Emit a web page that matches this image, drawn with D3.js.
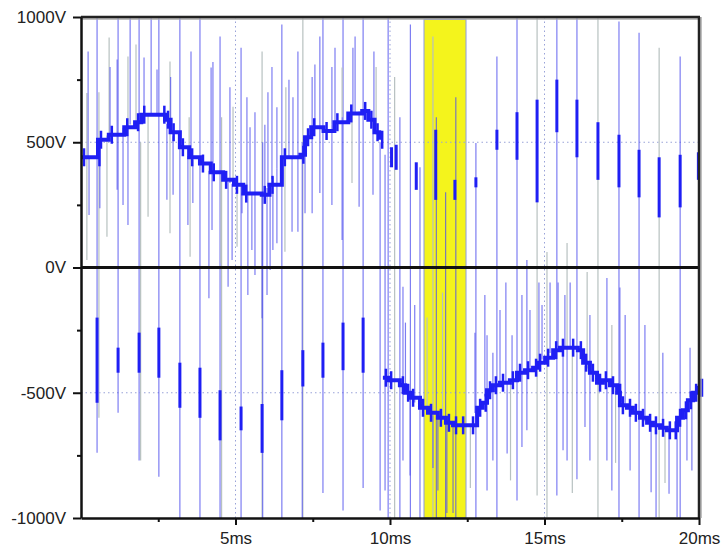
<!DOCTYPE html>
<html>
<head>
<meta charset="utf-8">
<script src="https://cdnjs.cloudflare.com/ajax/libs/d3/7.8.5/d3.min.js"></script>
<style>
  body { margin: 0; background: #fff; }
  text { font-family: "Liberation Sans", Arial, sans-serif; }
</style>
</head>
<body>
<div id="chart-area"></div>
<script>
// ---- data (time in ms, voltage in V) ----

// positive envelope, first half period
var envPosT = [0, 0.5, 0.55, 0.9, 1.4, 1.75, 1.95, 2.6, 2.72, 2.9, 3.2, 3.5, 3.85, 4.2, 4.6, 4.95, 5.25, 5.85, 6.1, 6.5, 7.1, 7.25, 7.45, 7.85, 8.2, 8.65, 9.1, 9.3, 9.5, 9.65];
var envPosV = [440, 440, 510, 530, 560, 580, 610, 610, 590, 540, 480, 440, 415, 380, 350, 330, 295, 290, 330, 440, 450, 520, 560, 545, 580, 615, 625, 590, 540, 510];

// negative envelope, second half period
var envNegT = [9.77, 9.94, 10.32, 10.49, 10.65, 10.97, 11.23, 11.55, 11.81, 12.04, 12.27, 12.59, 12.82, 13.0, 13.14, 13.33, 13.56, 13.88, 14.11, 14.37, 14.63, 14.76, 15.02, 15.28, 15.5, 15.83, 16.08, 16.25, 16.47, 16.7, 16.89, 17.12, 17.35, 17.44, 17.67, 17.86, 18.09, 18.32, 18.51, 18.74, 18.96, 19.15, 19.29, 19.48, 19.64, 19.81, 19.94, 20];
var envNegV = [-440, -450, -470, -500, -520, -560, -580, -600, -620, -630, -630, -630, -560, -540, -490, -470, -460, -450, -420, -410, -400, -380, -360, -330, -320, -320, -330, -380, -420, -460, -450, -470, -500, -550, -560, -580, -600, -620, -630, -640, -650, -650, -600, -570, -530, -500, -480, -480];

// switching edges: [t, low, high, kind]
var switchLines = [
  [0.52, -740, 1000, "b"], [0.58, -600, 700, "g"], [1.20, -580, 1000, "b"], [1.88, -770, 1000, "b"],
  [1.93, -770, 500, "g"], [2.52, -835, 1000, "b"], [3.20, -1000, 1000, "b"], [3.85, -1000, 1000, "b"],
  [4.50, -1000, 922, "b"], [4.55, -1000, 600, "g"], [5.18, -1000, 877, "b"], [5.86, -1000, 862, "g"],
  [5.88, -1000, 500, "b"], [6.50, -1000, 970, "b"], [7.18, -1000, 1000, "g"], [7.16, -1000, 500, "b"],
  [7.83, -900, 1000, "b"], [8.48, -970, 1000, "b"], [9.13, -880, 1000, "b"], [9.68, -970, 500, "b"],
  [9.84, -890, 450, "b"], [9.94, -1000, 1000, "b"], [10.15, -1000, 760, "g"], [10.32, -1000, 600, "b"],
  [10.66, -1000, 970, "b"], [10.97, -1000, 400, "b"], [11.39, -1000, 922, "g"], [11.5, -1000, 600, "b"],
  [11.8, -1000, 300, "b"], [12.13, -1000, 680, "b"], [12.78, -1000, 497, "b"], [13.46, -1000, 842, "b"],
  [14.11, -930, 1000, "b"], [14.76, -910, 1000, "g"], [15.40, -910, 1000, "b"], [16.05, -845, 1000, "b"],
  [16.73, -1000, 1000, "g"], [17.41, -1000, 982, "b"], [18.06, -1000, 937, "b"], [18.71, -1000, 877, "g"],
  [19.39, -1000, 842, "b"]
];

// thick short pulses at the switching edges: [t, low, high]
var pulses = [
  [0.52, -540, -200], [1.20, -420, -320], [1.88, -420, -260], [2.52, -440, -240], [3.20, -560, -380],
  [3.85, -600, -400], [4.50, -690, -490], [5.18, -650, -555], [5.86, -740, -545], [6.50, -610, -410],
  [7.18, -475, -330], [7.83, -440, -300], [8.48, -410, -220], [9.13, -420, -200],
  [10.05, 400, 480], [10.2, 390, 490], [10.85, 310, 420], [11.48, 270, 550], [12.10, 270, 350],
  [12.78, 320, 360], [13.46, 470, 550], [14.11, 430, 620], [14.76, 260, 670], [15.40, 540, 750],
  [16.05, 440, 670], [16.73, 350, 580], [17.41, 320, 530], [18.06, 280, 470], [18.71, 200, 440],
  [19.39, 240, 450], [19.98, 350, 460]
];

// ringing spikes leaving the positive envelope: [t, tip, kind]
var posUpSpikes = [
  [0.19, 697, "g"], [0.23, 862, "b"], [0.91, 918, "g"], [0.94, 800, "b"], [1.17, 830, "b"], [1.52, 842, "g"],
  [1.59, 1000, "b"], [1.78, 890, "g"], [2.04, 838, "b"], [2.27, 1000, "b"], [2.46, 790, "b"], [2.88, 822, "g"],
  [2.9, 760, "b"], [3.50, 600, "g"], [3.56, 862, "b"], [4.21, 798, "b"], [4.27, 820, "b"], [4.82, 720, "b"],
  [4.92, 642, "g"], [5.37, 680, "b"], [5.47, 560, "b"], [5.63, 620, "b"], [5.95, 570, "b"], [6.05, 700, "b"],
  [6.18, 800, "b"], [6.34, 640, "b"], [6.63, 720, "g"], [6.73, 750, "b"], [6.86, 680, "b"], [7.02, 862, "b"],
  [7.48, 760, "b"], [7.57, 810, "b"], [7.73, 922, "b"], [8.12, 800, "b"], [8.22, 877, "b"], [8.45, 798, "g"],
  [8.80, 877, "b"], [8.87, 922, "b"], [9.48, 862, "b"], [9.55, 800, "g"]
];
var posDownSpikes = [
  [0.19, 30, "g"], [0.26, 210, "b"], [0.61, 237, "b"], [0.84, 123, "g"], [1.17, 310, "b"], [1.36, 250, "b"],
  [1.52, 170, "b"], [2.17, 203, "g"], [2.78, 270, "b"], [2.88, 137, "g"], [2.98, 290, "b"], [3.46, 170, "b"],
  [3.53, 43, "g"], [3.62, 257, "b"], [4.14, -123, "b"], [4.24, 150, "b"], [4.53, 17, "g"], [4.76, -77, "b"],
  [4.89, 30, "b"], [5.05, 83, "g"], [5.21, 217, "b"], [5.40, -110, "b"], [5.53, 70, "b"], [5.63, -30, "b"],
  [5.86, -203, "b"], [6.02, -110, "b"], [6.12, -10, "b"], [6.21, 70, "b"], [6.34, 97, "b"], [6.60, 63, "g"],
  [6.83, 143, "b"], [7.02, 143, "b"], [7.25, 217, "b"], [7.48, 217, "b"], [7.73, 297, "b"], [8.12, 250, "b"],
  [8.45, 110, "b"], [8.77, 337, "g"], [9.0, 243, "b"], [9.45, 290, "b"]
];

// ringing spikes leaving the negative envelope: [t, tip, kind]
var negDownSpikes = [
  [10.42, -770, "b"], [10.65, -830, "b"], [11.39, -800, "b"], [11.55, -890, "b"], [11.84, -980, "b"],
  [12.04, -980, "b"], [12.6, -880, "g"], [13.14, -890, "b"], [13.33, -770, "b"], [13.79, -743, "b"],
  [13.9, -850, "g"], [14.27, -717, "b"], [14.43, -650, "b"], [15.08, -997, "g"], [15.60, -730, "b"],
  [15.73, -770, "b"], [15.9, -900, "g"], [16.31, -637, "b"], [16.47, -770, "b"], [17.02, -770, "b"],
  [17.18, -890, "b"], [17.3, -780, "g"], [17.77, -810, "b"], [18.45, -897, "b"], [18.61, -997, "b"],
  [18.9, -860, "g"], [19.03, -903, "b"], [19.29, -997, "b"], [19.61, -770, "b"], [19.77, -810, "b"]
];
var negUpSpikes = [
  [10.42, -77, "b"], [10.5, -220, "b"], [10.8, -150, "b"], [11.2, -200, "g"], [11.7, -100, "g"],
  [12.75, -260, "b"], [13.07, -110, "b"], [13.14, -270, "b"], [13.33, -340, "b"], [13.56, -170, "b"],
  [13.75, -60, "b"], [13.95, -270, "b"], [14.27, -110, "b"], [14.43, 30, "b"], [14.53, -170, "b"],
  [14.82, -60, "b"], [14.92, -150, "b"], [15.08, 62, "g"], [15.18, -60, "b"], [15.44, -60, "b"],
  [15.66, -110, "b"], [15.73, 98, "g"], [15.83, -60, "b"], [16.38, -18, "g"], [16.47, -190, "b"],
  [17.02, -42, "b"], [17.18, -230, "g"], [17.44, -80, "b"], [17.61, -190, "b"], [18.25, -230, "b"],
  [18.83, -340, "b"], [19.71, -320, "b"]
];

// highlighted window
var windowT = [11.1, 12.46];
var windowV = [-1000, 990];

// ticks
var yMajor = [-1000, -500, 0, 500, 1000];
var yMinor = [-750, -250, 250, 750];
var xMajor = [5, 10, 15, 20];
var xMinor = [2.5, 7.5, 12.5, 17.5];
var yGrid = [-500, 500];
var xGrid = [5, 10, 15];

// ---- layout ----
var margin = { left: 81, right: 23, top: 17, bottom: 31 };
var width = 722 - margin.left - margin.right,
    height = 549 - margin.top - margin.bottom;

var svg = d3.select("#chart-area")
            .append("svg")
                .attr("width", 722)
                .attr("height", 549);

var g = svg.append("g")
            .attr("transform", "translate(" + margin.left + ", " + margin.top + ")");

var x = d3.scaleLinear().domain([0, 20]).range([0, width]);
var y = d3.scaleLinear().domain([-1000, 1000]).range([height, 0]);

// envelope lookup so spikes start on the trace
var posEnv = d3.scaleLinear().domain(envPosT).range(envPosV).clamp(true);
var negEnv = d3.scaleLinear().domain(envNegT).range(envNegV).clamp(true);

var colour = { b: "#5252ee", g: "#b7c1c0" };
var opac = { b: 0.75, g: 1 };
var traceBlue = "#1f1ff4";

// yellow window
g.append("rect")
    .attr("x", x(windowT[0]))
    .attr("y", y(windowV[1]))
    .attr("width", x(windowT[1]) - x(windowT[0]))
    .attr("height", y(windowV[0]) - y(windowV[1]))
    .attr("fill", "#f4f41c")
    .attr("stroke", "#8e9ce0")
    .attr("stroke-width", 1);

// dotted grid
g.selectAll(".ygrid").data(yGrid).enter().append("line")
    .attr("x1", 0).attr("x2", width)
    .attr("y1", function(d) { return y(d); }).attr("y2", function(d) { return y(d); })
    .attr("stroke", "#99a2d8").attr("stroke-width", 1).attr("stroke-dasharray", "1.5,3");
g.selectAll(".xgrid").data(xGrid).enter().append("line")
    .attr("y1", 0).attr("y2", height)
    .attr("x1", function(d) { return x(d); }).attr("x2", function(d) { return x(d); })
    .attr("stroke", "#99a2d8").attr("stroke-width", 1).attr("stroke-dasharray", "1.5,3");

// thin vertical lines
var thin = g.append("g").attr("class", "thin");

function drawThin(rows, lo, hi) {
  thin.selectAll(null).data(rows).enter().append("line")
      .attr("x1", function(d) { return x(d[0]); })
      .attr("x2", function(d) { return x(d[0]); })
      .attr("y1", function(d) { return y(lo(d)); })
      .attr("y2", function(d) { return y(hi(d)); })
      .attr("stroke", function(d) { return colour[d[d.length - 1]]; })
      .attr("stroke-opacity", function(d) { return opac[d[d.length - 1]]; })
      .attr("stroke-width", 1.2);
}

drawThin(switchLines, function(d) { return d[1]; }, function(d) { return d[2]; });
drawThin(posUpSpikes, function(d) { return posEnv(d[0]); }, function(d) { return d[1]; });
drawThin(posDownSpikes, function(d) { return posEnv(d[0]); }, function(d) { return d[1]; });
drawThin(negDownSpikes, function(d) { return negEnv(d[0]); }, function(d) { return d[1]; });
drawThin(negUpSpikes, function(d) { return negEnv(d[0]); }, function(d) { return d[1]; });

// thick envelopes
var envLine = d3.line()
    .x(function(d) { return x(d[0]); })
    .y(function(d) { return y(d[1]); })
    .curve(d3.curveStepAfter);

[d3.zip(envPosT, envPosV), d3.zip(envNegT, envNegV)].forEach(function(pts) {
  g.append("path")
      .datum(pts)
      .attr("d", envLine)
      .attr("fill", "none").attr("stroke", traceBlue).attr("stroke-width", 4);

  // switching noise riding on the trace at each plateau
  g.selectAll(null).data(pts).enter().append("line")
      .attr("x1", function(d) { return x(d[0]) + 3; })
      .attr("x2", function(d) { return x(d[0]) + 3; })
      .attr("y1", function(d) { return y(d[1]) - 9; })
      .attr("y2", function(d) { return y(d[1]) + 9; })
      .attr("stroke", traceBlue).attr("stroke-width", 2.5);
});

// thick pulses
g.selectAll(".pulse").data(pulses).enter().append("line")
    .attr("x1", function(d) { return x(d[0]); })
    .attr("x2", function(d) { return x(d[0]); })
    .attr("y1", function(d) { return y(d[1]); })
    .attr("y2", function(d) { return y(d[2]); })
    .attr("stroke", traceBlue).attr("stroke-width", 3);

// zero line
g.append("line")
    .attr("x1", 0).attr("x2", width)
    .attr("y1", y(0)).attr("y2", y(0))
    .attr("stroke", "#111").attr("stroke-width", 3);

// frame (top and right)
g.append("line").attr("x1", 0).attr("x2", width).attr("y1", 2).attr("y2", 2)
    .attr("stroke", "#aaa").attr("stroke-width", 1.5);
g.append("line").attr("x1", 0).attr("x2", width + 1).attr("y1", 0).attr("y2", 0)
    .attr("stroke", "#222").attr("stroke-width", 2.5);
g.append("line").attr("x1", width + 2).attr("x2", width + 2).attr("y1", 0).attr("y2", height)
    .attr("stroke", "#aaa").attr("stroke-width", 1.5);
g.append("line").attr("x1", width).attr("x2", width).attr("y1", 0).attr("y2", height)
    .attr("stroke", "#222").attr("stroke-width", 2.5);

// Y Axis
var yAxisGroup = g.append("g").attr("class", "y axis");
yAxisGroup.call(d3.axisLeft(y).tickValues(yMajor).tickSize(8).tickSizeOuter(0).tickPadding(7)
    .tickFormat(function(d) { return d + "V"; }));
g.append("g").call(d3.axisLeft(y).tickValues(yMinor).tickSize(4).tickSizeOuter(0).tickFormat(""))
    .select(".domain").remove();

// X Axis
var xAxisGroup = g.append("g").attr("class", "x axis")
    .attr("transform", "translate(0," + height + ")");
xAxisGroup.call(d3.axisBottom(x).tickValues(xMajor).tickSize(7).tickSizeOuter(0).tickPadding(7)
    .tickFormat(function(d) { return d + "ms"; }));
g.append("g").attr("transform", "translate(0," + height + ")")
    .call(d3.axisBottom(x).tickValues(xMinor).tickSize(4).tickSizeOuter(0).tickFormat(""))
    .select(".domain").remove();

svg.selectAll(".axis .domain").attr("stroke", "#111").attr("stroke-width", 2.5);
svg.selectAll(".tick line").attr("stroke", "#111").attr("stroke-width", 2);
svg.selectAll(".axis text").attr("font-size", "17px").attr("fill", "#222")
    .attr("font-family", "'Liberation Sans', Arial, sans-serif");
</script>
</body>
</html>
